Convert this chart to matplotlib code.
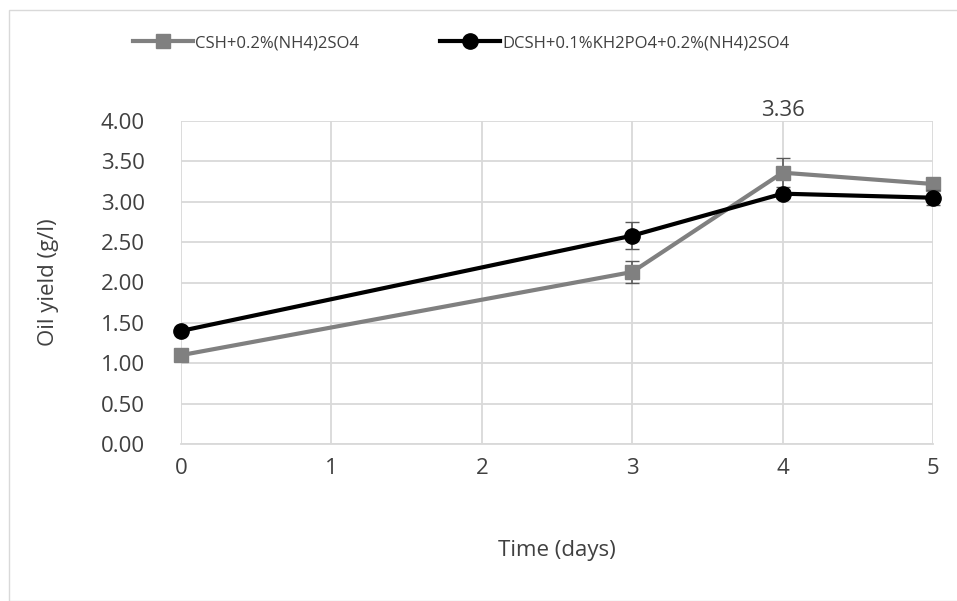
import matplotlib
matplotlib.use("Agg")
import matplotlib.pyplot as plt
from matplotlib.patches import Rectangle

plt.rcParams['font.family'] = ['Open Sans', 'DejaVu Sans']

days = [0, 3, 4, 5]
csh_label = "CSH+0.2%(NH4)2SO4"
csh_yield = [1.10, 2.13, 3.36, 3.22]
csh_err = [0.02, 0.14, 0.18, 0.05]
dcsh_label = "DCSH+0.1%KH2PO4+0.2%(NH4)2SO4"
dcsh_yield = [1.40, 2.58, 3.10, 3.05]
dcsh_err = [0.02, 0.17, 0.05, 0.09]
y_ticks = [0.0, 0.5, 1.0, 1.5, 2.0, 2.5, 3.0, 3.5, 4.0]
x_ticks = [0, 1, 2, 3, 4, 5]

text_c = '#404040'
fs = 16

fig = plt.figure(figsize=(9.57, 6.01), dpi=100)
fig.patches.append(Rectangle((9 / 957, 0), 1, 1 - 10 / 601, transform=fig.transFigure,
                             fill=False, edgecolor='#d9d9d9', linewidth=1))
ax = fig.add_axes([181 / 957, 1 - 444 / 601, (933 - 181) / 957, (444 - 121) / 601])

grid_c = '#d9d9d9'
ax.set_xlim(0, 5)
ax.set_ylim(0, 4)
ax.set_xticks(x_ticks)
ax.set_yticks(y_ticks)
ax.set_yticklabels([f"{v:.2f}" for v in y_ticks])
ax.grid(True, color=grid_c, linewidth=1.3)
ax.set_axisbelow(True)
for s in ['top', 'right', 'left']:
    ax.spines[s].set_visible(False)
ax.spines['bottom'].set_color(grid_c)
ax.spines['bottom'].set_linewidth(1.3)
ax.tick_params(axis='both', length=0, labelsize=fs, colors=text_c)
ax.tick_params(axis='x', pad=10)
ax.tick_params(axis='y', pad=26)

csh = ax.errorbar(days, csh_yield, yerr=csh_err, color='#808080', linewidth=3,
                  marker='s', markersize=10, ecolor='#595959', elinewidth=1.2, capsize=5,
                  label=csh_label, clip_on=False, zorder=3)
dcsh = ax.errorbar(days, dcsh_yield, yerr=dcsh_err, color='black', linewidth=3,
                   marker='o', markersize=11, ecolor='#595959', elinewidth=1.2, capsize=5,
                   label=dcsh_label, clip_on=False, zorder=4)

ax.annotate(f"{csh_yield[2]:.2f}", (days[2], csh_yield[2]), xytext=(0, 45),
            textcoords='offset points', ha='center', va='center',
            fontsize=fs, color=text_c)

ax.set_ylabel("Oil yield (g/l)", fontsize=fs, color=text_c, labelpad=30)
ax.set_xlabel("Time (days)", fontsize=fs, color=text_c, labelpad=44)

# legend shows only the line + marker, without the error bars
fig.legend([csh[0], dcsh[0]], [csh_label, dcsh_label], loc='center',
           bbox_to_anchor=(0.482, 1 - 43 / 601), ncol=2,
           frameon=False, fontsize=12, handlelength=3.6, handletextpad=0.1,
           columnspacing=4.9, labelcolor=text_c)

fig.savefig("out.png", dpi=100)
